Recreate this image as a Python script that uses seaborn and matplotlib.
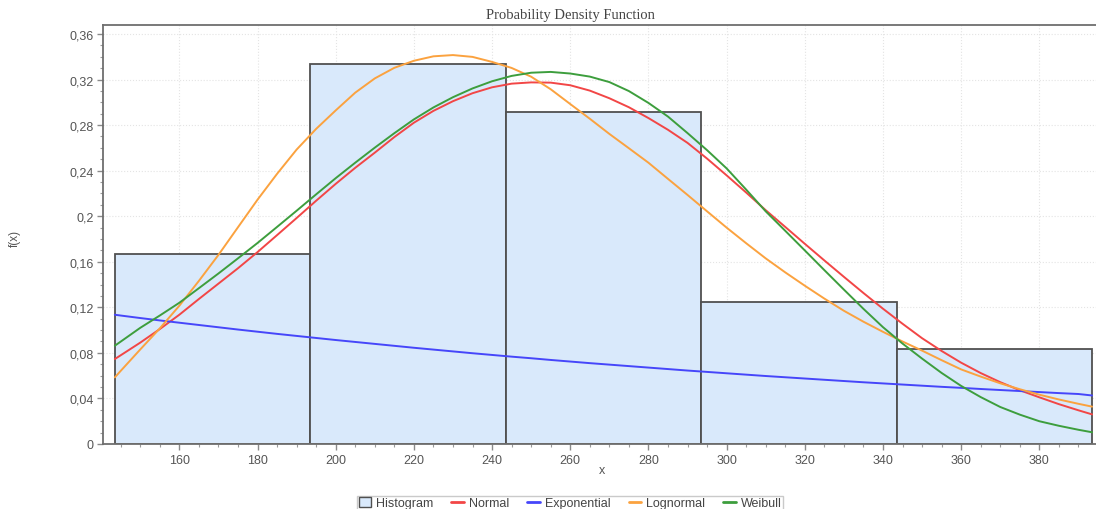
import matplotlib
matplotlib.use("Agg")
import matplotlib.pyplot as plt
from matplotlib.ticker import MultipleLocator, FuncFormatter
from matplotlib.patches import Patch
from matplotlib.lines import Line2D
import pandas as pd
import seaborn as sns

# Histogram: class boundaries and relative frequencies
bin_edges = [143.5, 193.5, 243.5, 293.5, 343.5, 393.5]
bin_heights = [0.1667, 0.3333, 0.2917, 0.1250, 0.0833]

# Fitted density curves, evaluated along x
x_points = [143.5, 145, 150, 155, 160, 165, 170, 175, 180, 185, 190, 195, 200,
            205, 210, 215, 220, 225, 230, 235, 240, 245, 250, 255, 260, 265,
            270, 275, 280, 285, 290, 295, 300, 305, 310, 315, 320, 325, 330,
            335, 340, 345, 350, 355, 360, 365, 370, 375, 380, 385, 390, 393.5]
normal_pdf = [0.0746, 0.0779, 0.0890, 0.1009, 0.1135, 0.1273, 0.1408, 0.1543,
              0.1685, 0.1834, 0.1984, 0.2136, 0.2284, 0.2425, 0.2558, 0.2695,
              0.2821, 0.2925, 0.3010, 0.3080, 0.3132, 0.3164, 0.3175, 0.3173,
              0.3150, 0.3103, 0.3036, 0.2957, 0.2862, 0.2759, 0.2644, 0.2506,
              0.2359, 0.2208, 0.2053, 0.1906, 0.1758, 0.1612, 0.1468, 0.1326,
              0.1188, 0.1056, 0.0929, 0.0817, 0.0714, 0.0623, 0.0543, 0.0472,
              0.0410, 0.0350, 0.0296, 0.0260]
exponential_pdf = [0.1135, 0.1128, 0.1106, 0.1085, 0.1065, 0.1045, 0.1025, 0.1005,
                   0.0986, 0.0967, 0.0949, 0.0931, 0.0913, 0.0896, 0.0879, 0.0862,
                   0.0845, 0.0829, 0.0813, 0.0797, 0.0782, 0.0767, 0.0753, 0.0738,
                   0.0724, 0.0710, 0.0697, 0.0684, 0.0671, 0.0658, 0.0645, 0.0633,
                   0.0621, 0.0609, 0.0597, 0.0586, 0.0575, 0.0564, 0.0553, 0.0542,
                   0.0532, 0.0522, 0.0512, 0.0502, 0.0493, 0.0483, 0.0474, 0.0465,
                   0.0456, 0.0447, 0.0439, 0.0426]
lognormal_pdf = [0.0585, 0.0642, 0.0830, 0.1015, 0.1214, 0.1432, 0.1660, 0.1903,
                 0.2145, 0.2372, 0.2585, 0.2767, 0.2929, 0.3085, 0.3210, 0.3303,
                 0.3365, 0.3404, 0.3415, 0.3399, 0.3355, 0.3302, 0.3225, 0.3115,
                 0.2985, 0.2856, 0.2723, 0.2597, 0.2470, 0.2328, 0.2187, 0.2043,
                 0.1900, 0.1763, 0.1630, 0.1507, 0.1390, 0.1277, 0.1170, 0.1074,
                 0.0985, 0.0900, 0.0820, 0.0736, 0.0655, 0.0592, 0.0533, 0.0481,
                 0.0433, 0.0391, 0.0353, 0.0328]
weibull_pdf = [0.0863, 0.0899, 0.1020, 0.1128, 0.1240, 0.1368, 0.1497, 0.1630,
               0.1765, 0.1906, 0.2048, 0.2192, 0.2334, 0.2470, 0.2602, 0.2729,
               0.2850, 0.2955, 0.3045, 0.3122, 0.3185, 0.3232, 0.3260, 0.3267,
               0.3253, 0.3226, 0.3178, 0.3099, 0.2995, 0.2875, 0.2730, 0.2580,
               0.2420, 0.2234, 0.2043, 0.1872, 0.1700, 0.1527, 0.1356, 0.1187,
               0.1026, 0.0882, 0.0750, 0.0624, 0.0510, 0.0412, 0.0325, 0.0258,
               0.0200, 0.0160, 0.0125, 0.0103]

series_names = ["Normal", "Exponential", "Lognormal", "Weibull"]
series_values = [normal_pdf, exponential_pdf, lognormal_pdf, weibull_pdf]
palette = {"Normal": "#f24646", "Exponential": "#4646fa",
           "Lognormal": "#fba23f", "Weibull": "#3d9e3d"}
hist_fill = "#d9e9fb"
hist_edge = "#505050"

curves = pd.DataFrame(
    [(x, y, name) for name, ys in zip(series_names, series_values)
     for x, y in zip(x_points, ys)],
    columns=["x", "density", "Distribution"],
)
centers = [(a + b) / 2 for a, b in zip(bin_edges[:-1], bin_edges[1:])]

sns.set_style("white")
plt.rcParams["font.family"] = ["Liberation Sans", "DejaVu Sans"]

W, H = 1096, 510
fig = plt.figure(figsize=(W / 100, H / 100), dpi=100)
left, right, top, bottom = 103.3, 1096, 26, 445
ax = fig.add_axes([left / W, 1 - bottom / H, (right - left) / W, (bottom - top) / H])

sns.histplot(x=centers, weights=bin_heights, bins=bin_edges, stat="count",
             color=hist_fill, edgecolor=hist_edge, linewidth=1.3, alpha=1.0,
             ax=ax, zorder=2)
sns.lineplot(data=curves, x="x", y="density", hue="Distribution", palette=palette,
             hue_order=series_names, estimator=None, sort=False, linewidth=1.4,
             legend=False, ax=ax, zorder=3)

ax.set_xlim(140.55, 394.5)
ax.set_ylim(0, 0.3679)
ax.set_xlabel("")
ax.set_ylabel("")

ax.xaxis.set_major_locator(MultipleLocator(20))
ax.xaxis.set_minor_locator(MultipleLocator(5))
ax.yaxis.set_major_locator(MultipleLocator(0.04))
ax.yaxis.set_minor_locator(MultipleLocator(0.01))


def comma_fmt(v, pos):
    s = f"{v:.2f}".rstrip("0").rstrip(".")
    return s.replace(".", ",")


ax.yaxis.set_major_formatter(FuncFormatter(comma_fmt))
ax.xaxis.set_major_formatter(FuncFormatter(lambda v, p: f"{v:.0f}"))

ax.tick_params(which="major", direction="out", length=4, width=1,
               color="#8a8a8a", labelcolor="#555555", labelsize=9, pad=3)
ax.tick_params(which="minor", direction="out", length=2, width=0.8, color="#9a9a9a")
ax.tick_params(bottom=True, left=True, which="both")

ax.set_axisbelow(True)
ax.grid(True, which="major", color="#e4e4e4", linestyle=":", linewidth=0.8)

for side in ["left", "bottom", "top"]:
    ax.spines[side].set_color("#6e6e6e")
    ax.spines[side].set_linewidth(1.3)
ax.spines["right"].set_visible(False)
ax.set_facecolor("white")

fig.text(570 / W, 1 - 15 / H, "Probability Density Function",
         family=["Liberation Serif", "DejaVu Serif"], fontsize=10.5,
         color="#444444", ha="center", va="center")
fig.text(15 / W, 1 - 238 / H, "f(x)", rotation=90, fontsize=8.5,
         color="#555555", ha="center", va="center")
fig.text(602 / W, 1 - 471 / H, "x", fontsize=9, color="#555555",
         ha="center", va="center")

handles = [Patch(facecolor=hist_fill, edgecolor=hist_edge, linewidth=1.0)]
handles += [Line2D([], [], color=palette[n], linewidth=2) for n in series_names]
labels = ["Histogram"] + series_names
fig.legend(handles, labels, ncol=5, loc="upper center",
           bbox_to_anchor=(570 / W, 1 - 496.5 / H), frameon=True, fancybox=False,
           edgecolor="#bdbdbd", fontsize=9, handlelength=1.0, handleheight=0.9,
           handletextpad=0.4, columnspacing=1.45, borderpad=0.1,
           borderaxespad=0.0, labelcolor="#444444")

fig.savefig("out.png", dpi=100, facecolor="white")
